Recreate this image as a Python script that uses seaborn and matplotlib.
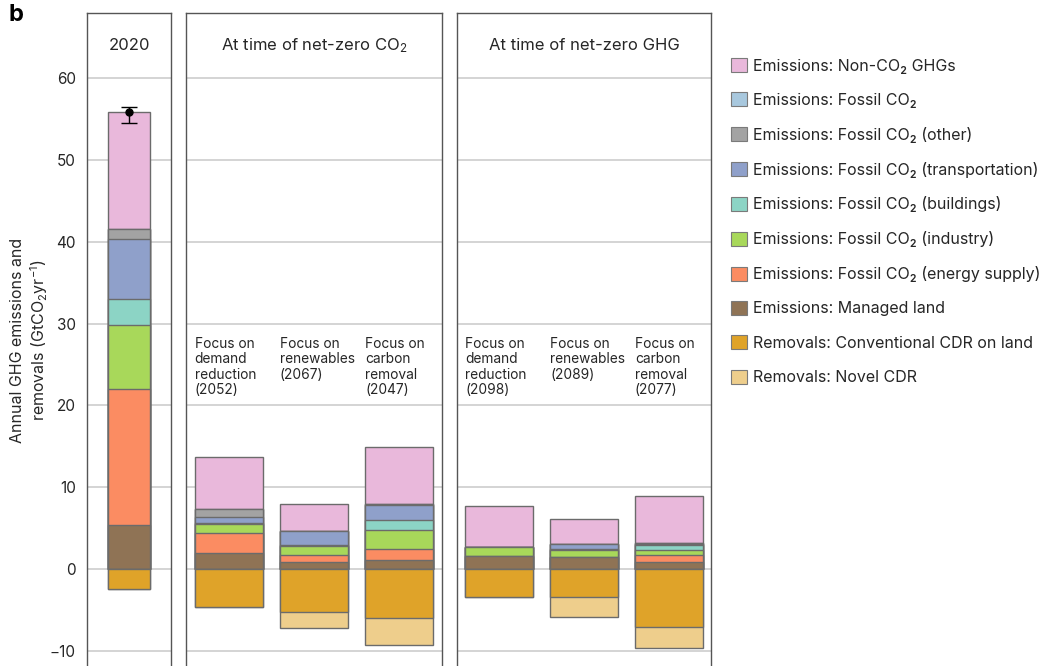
import matplotlib
matplotlib.use("Agg")
import matplotlib.pyplot as plt
from matplotlib.patches import Patch
import numpy as np
import pandas as pd
import seaborn as sns

# ---- data (GtCO2-eq per year) ----
components = ["Managed land", "Energy supply", "Industry", "Buildings",
              "Transportation", "Other", "Fossil CO2", "Non-CO2 GHGs"]
removal_components = ["Conventional CDR", "Novel CDR"]

years_2020 = ["2020"]
emis_2020 = {
    "Managed land":   [5.4],
    "Energy supply":  [16.6],
    "Industry":       [7.8],
    "Buildings":      [3.2],
    "Transportation": [7.3],
    "Other":          [1.3],
    "Fossil CO2":     [0.0],
    "Non-CO2 GHGs":   [14.2],
}
removals_2020 = {"Conventional CDR": [-2.5], "Novel CDR": [0.0]}
total_2020 = 55.8
range_2020 = (54.5, 56.5)

scenarios_co2 = ["Focus on\ndemand\nreduction\n(2052)",
                 "Focus on\nrenewables\n(2067)",
                 "Focus on\ncarbon\nremoval\n(2047)"]
emis_co2 = {
    "Managed land":   [1.92, 0.82, 1.14],
    "Energy supply":  [2.45, 0.85, 1.35],
    "Industry":       [1.18, 1.11, 2.24],
    "Buildings":      [0.12, 0.12, 1.31],
    "Transportation": [0.70, 1.71, 1.80],
    "Other":          [0.98, 0.00, 0.16],
    "Fossil CO2":     [0.00, 0.00, 0.00],
    "Non-CO2 GHGs":   [6.32, 3.39, 6.94],
}
removals_co2 = {"Conventional CDR": [-4.70, -5.30, -5.96],
                "Novel CDR":        [0.00, -1.90, -3.35]}

scenarios_ghg = ["Focus on\ndemand\nreduction\n(2098)",
                 "Focus on\nrenewables\n(2089)",
                 "Focus on\ncarbon\nremoval\n(2077)"]
emis_ghg = {
    "Managed land":   [1.59, 1.47, 0.86],
    "Energy supply":  [0.00, 0.00, 0.81],
    "Industry":       [1.10, 0.90, 0.70],
    "Buildings":      [0.00, 0.08, 0.61],
    "Transportation": [0.00, 0.55, 0.10],
    "Other":          [0.00, 0.06, 0.10],
    "Fossil CO2":     [0.00, 0.00, 0.00],
    "Non-CO2 GHGs":   [5.07, 3.02, 5.76],
}
removals_ghg = {"Conventional CDR": [-3.47, -3.43, -7.06],
                "Novel CDR":        [0.00, -2.45, -2.53]}

panel_titles = ["2020", "At time of net-zero CO$_2$", "At time of net-zero GHG"]

colors = {
    "Non-CO2 GHGs":     "#E9B8DB",
    "Fossil CO2":       "#A8C8DE",
    "Other":            "#A3A3A3",
    "Transportation":   "#8FA0CA",
    "Buildings":        "#8CD4C5",
    "Industry":         "#A8D85A",
    "Energy supply":    "#FB8C62",
    "Managed land":     "#8F7355",
    "Conventional CDR": "#DFA329",
    "Novel CDR":        "#EECE8C",
}
legend_labels = [
    ("Non-CO2 GHGs", "Emissions: Non-CO\u2082 GHGs"),
    ("Fossil CO2", "Emissions: Fossil CO\u2082"),
    ("Other", "Emissions: Fossil CO\u2082 (other)"),
    ("Transportation", "Emissions: Fossil CO\u2082 (transportation)"),
    ("Buildings", "Emissions: Fossil CO\u2082 (buildings)"),
    ("Industry", "Emissions: Fossil CO\u2082 (industry)"),
    ("Energy supply", "Emissions: Fossil CO\u2082 (energy supply)"),
    ("Managed land", "Emissions: Managed land"),
    ("Conventional CDR", "Removals: Conventional CDR on land"),
    ("Novel CDR", "Removals: Novel CDR"),
]

# ---- style ----
sns.set_theme(style="whitegrid")
plt.rcParams["font.family"] = ["Inter", "DejaVu Sans"]
plt.rcParams["mathtext.fontset"] = "custom"
plt.rcParams["mathtext.rm"] = "Inter"
plt.rcParams["mathtext.it"] = "Inter"
plt.rcParams["mathtext.default"] = "regular"

EDGE = "#6B6B6B"
GRID = "#C9C9C9"
SPINE = "#555555"
TXT = "#262626"

W, H = 1048, 666
fig = plt.figure(figsize=(W / 100, H / 100), dpi=100)
top = 1 - 13 / H
ax1 = fig.add_axes([87 / W, 0, 84 / W, top])
ax2 = fig.add_axes([186 / W, 0, 256 / W, top])
ax3 = fig.add_axes([457 / W, 0, 254 / W, top])

YMIN, YMAX = -11.85, 67.94


def stacked(ax, cats, emis, rem, width):
    """Draw stacked bars as overlapping cumulative seaborn bars."""
    # positive side: draw the tallest cumulative first, lower layers over it
    cum = np.zeros(len(cats))
    tops = []
    for comp in components:
        cum = cum + np.array(emis[comp])
        tops.append((comp, cum.copy()))
    for comp, vals in reversed(tops):
        df = pd.DataFrame({"cat": cats, "val": vals})
        sns.barplot(data=df, x="cat", y="val", order=cats, color=colors[comp],
                    saturation=1, width=width, edgecolor=EDGE, linewidth=1.0,
                    errorbar=None, ax=ax)
    # negative side
    conv = np.array(rem["Conventional CDR"])
    novel = conv + np.array(rem["Novel CDR"])
    for comp, vals in (("Novel CDR", novel), ("Conventional CDR", conv)):
        df = pd.DataFrame({"cat": cats, "val": vals})
        sns.barplot(data=df, x="cat", y="val", order=cats, color=colors[comp],
                    saturation=1, width=width, edgecolor=EDGE, linewidth=1.0,
                    errorbar=None, ax=ax)


stacked(ax1, years_2020, emis_2020, removals_2020, 0.51)
stacked(ax2, scenarios_co2, emis_co2, removals_co2, 0.8)
stacked(ax3, scenarios_ghg, emis_ghg, removals_ghg, 0.8)

# uncertainty range on 2020 total
ax1.errorbar([0], [total_2020],
             yerr=[[total_2020 - range_2020[0]], [range_2020[1] - total_2020]],
             fmt="o", color="black", ms=5, capsize=5.5, elinewidth=1.0,
             capthick=1.0, zorder=5)

for ax, title in zip((ax1, ax2, ax3), panel_titles):
    ax.set_ylim(YMIN, YMAX)
    ax.set_yticks(np.arange(-10, 61, 10))
    ax.set_xlabel("")
    ax.set_ylabel("")
    ax.set_xticks([])
    ax.grid(axis="y", color=GRID, linewidth=1.1)
    ax.grid(axis="x", visible=False)
    ax.set_axisbelow(True)
    for side in ("left", "right", "top"):
        ax.spines[side].set_color(SPINE)
        ax.spines[side].set_linewidth(1.0)
        ax.spines[side].set_visible(True)
    ax.spines["bottom"].set_visible(False)
    ax.tick_params(axis="y", length=0, labelsize=11, colors=TXT, pad=8)
    ax.text(0.5, 64.0, title, transform=ax.get_yaxis_transform(),
            ha="center", va="center", fontsize=12, color=TXT)

ax1.set_xlim(-0.5, 0.5)
ax2.set_xlim(-0.5, 2.5)
ax3.set_xlim(-0.5, 2.5)
ax2.tick_params(axis="y", labelleft=False)
ax3.tick_params(axis="y", labelleft=False)

for ax, cats in ((ax2, scenarios_co2), (ax3, scenarios_ghg)):
    for i, lab in enumerate(cats):
        ax.text(i - 0.4, 28.4, lab, ha="left", va="top", fontsize=9.9,
                color=TXT, linespacing=1.14)

fig.text(30 / W, 1 - 340 / H,
         "Annual GHG emissions and\nremovals (GtCO$_2$yr$^{-1}$)",
         rotation=90, ha="center", va="center", fontsize=11.5, color=TXT,
         multialignment="center", linespacing=1.25)
fig.text(8 / W, 1 - 15 / H, "b", fontsize=17, fontweight="bold",
         ha="left", va="center", color="black")

handles = [Patch(facecolor=colors[k], edgecolor="#7A7A7A", linewidth=0.8)
           for k, _ in legend_labels]
fig.legend(handles, [l for _, l in legend_labels], loc="upper left",
           bbox_to_anchor=(731 / W, 1 - 58 / H), frameon=False,
           fontsize=11.5, handlelength=0.98, handleheight=0.98,
           handletextpad=0.41, labelspacing=1.18, borderpad=0,
           borderaxespad=0, labelcolor=TXT)

fig.savefig("out.png", dpi=100)
